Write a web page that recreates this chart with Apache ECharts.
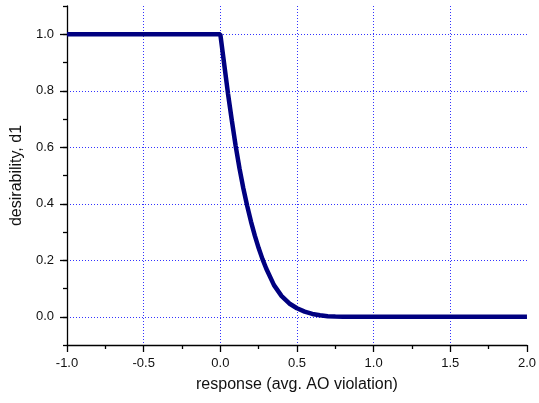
<!DOCTYPE html>
<html>
<head>
<meta charset="utf-8">
<script src="https://cdn.jsdelivr.net/npm/echarts@6/dist/echarts.min.js"></script>
<style>
  html, body { margin: 0; padding: 0; background: #fff; }
  #chart { width: 539px; height: 403px; }
</style>
</head>
<body>
<div id="chart"></div>
<script>
// response (avg. AO violation) vs desirability d1
var responseX = [-1, 0, 0.025, 0.05, 0.075, 0.1, 0.125, 0.15, 0.175, 0.2, 0.225, 0.25, 0.275, 0.3, 0.35, 0.4, 0.45, 0.5, 0.55, 0.6, 0.65, 0.7, 0.75, 0.8, 2.0];
var desirability = [1, 1, 0.895, 0.79, 0.695, 0.605, 0.525, 0.455, 0.393, 0.337, 0.287, 0.243, 0.204, 0.17, 0.112, 0.073, 0.047, 0.03, 0.018, 0.01, 0.005, 0.002, 0.0005, 0, 0];
var yTickValues = [0, 0.2, 0.4, 0.6, 0.8, 1.0];

var points = responseX.map(function (x, i) { return [x, desirability[i]]; });

var font = 'Liberation Sans, Arial, sans-serif';
var myChart = echarts.init(document.getElementById('chart'));

var option = {
  animation: false,
  grid: { left: 67, right: 9, top: 6, bottom: 58 },
  xAxis: {
    type: 'value',
    min: -1,
    max: 2,
    interval: 0.5,
    name: 'response (avg. AO violation)',
    nameLocation: 'middle',
    nameGap: 32,
    nameTextStyle: { fontFamily: font, fontSize: 16, color: '#111' },
    axisLine: { show: true, onZero: false, lineStyle: { color: '#000', width: 1.3 } },
    axisTick: { show: true, length: 7, lineStyle: { color: '#000', width: 1.3 } },
    minorTick: { show: true, splitNumber: 2, length: 4, lineStyle: { color: '#000', width: 1.3 } },
    axisLabel: {
      margin: 12,
      fontFamily: font,
      fontSize: 13,
      color: '#111',
      formatter: function (v) { return v.toFixed(1); }
    },
    splitLine: {
      show: true,
      showMinLine: false,
      showMaxLine: false,
      lineStyle: { color: '#3333ff', type: [1, 2], width: 1 }
    }
  },
  yAxis: [
    {
      type: 'value',
      min: -0.1,
      max: 1.1,
      position: 'left',
      name: 'desirability, d1',
      nameLocation: 'middle',
      nameGap: 38,
      nameTextStyle: { fontFamily: font, fontSize: 16, color: '#111' },
      axisLine: { show: true, onZero: false, lineStyle: { color: '#000', width: 1.3 } },
      axisTick: { show: true, length: 7, customValues: yTickValues, lineStyle: { color: '#000', width: 1.3 } },
      axisLabel: {
        margin: 13,
        fontFamily: font,
        fontSize: 13,
        color: '#111',
        customValues: yTickValues,
        formatter: function (v) { return v.toFixed(1); }
      },
      splitLine: {
        show: true,
        lineStyle: { color: '#3333ff', type: [1, 2], width: 1 }
      }
    },
    {
      // minor ticks on the left axis
      type: 'value',
      min: -0.1,
      max: 1.1,
      interval: 0.1,
      position: 'left',
      offset: 0,
      axisLine: { show: false, onZero: false },
      axisTick: { show: true, length: 4, lineStyle: { color: '#000', width: 1.3 } },
      axisLabel: { show: false },
      splitLine: { show: false }
    }
  ],
  series: [
    {
      type: 'line',
      data: points,
      showSymbol: false,
      smooth: false,
      lineStyle: { color: '#000080', width: 4.5 }
    }
  ]
};

myChart.setOption(option);
window.addEventListener('resize', function () { myChart.resize(); });
</script>
</body>
</html>
